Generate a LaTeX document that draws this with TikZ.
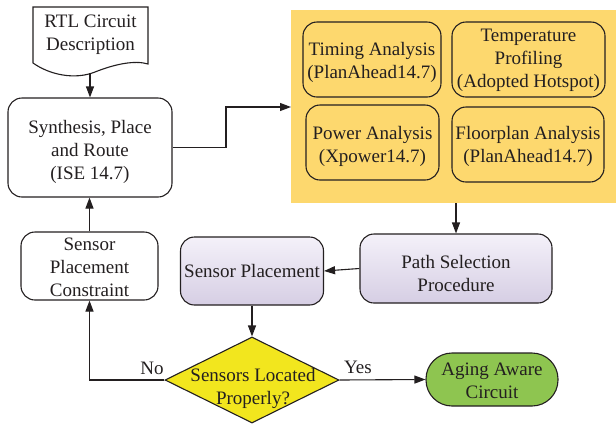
\documentclass[tikz,border=0pt]{standalone}
\usepackage{fontspec}
\setmainfont{Liberation Serif}
\usetikzlibrary{arrows.meta,shapes.geometric}
\definecolor{panelorange}{RGB}{253,216,110}
\definecolor{lavtop}{RGB}{244,241,249}
\definecolor{lavbot}{RGB}{214,206,228}
\definecolor{decyellow}{RGB}{242,230,30}
\definecolor{okgreen}{RGB}{142,197,80}
\definecolor{ink}{RGB}{35,31,32}
\tikzset{
  txt/.style={align=center, text=ink, font=\fontsize{19}{23}\selectfont},
  box/.style={draw=ink, line width=1.1pt, rounded corners=14pt, inner sep=0pt},
  lav/.style={box, top color=lavtop, bottom color=lavbot},
  arr/.style={draw=ink, line width=1.1pt, -{Triangle[length=11pt,width=8pt]}},
}
\begin{document}
\begin{tikzpicture}[x=1pt,y=-1pt]
\useasboundingbox (0,0) rectangle (616,424);

% input document with a wavy lower edge
\draw[draw=ink, line width=1.1pt, fill=white]
  (33,7) -- (148,7) -- (148,64)
  .. controls (135,60) and (115,64) .. (95,72)
  .. controls (75,80) and (50,75) .. (33,63) -- cycle;
\node[txt] (doc) at (90.5,35) {RTL Circuit\\Description};
\coordinate (docend) at (90,73);

% synthesis and sensor constraint
\node[box, minimum width=164pt, minimum height=99pt] (synth) at (90,147.5) {};
\node[txt] (synthtxt) at (90,152) {Synthesis, Place\\and Route\\(ISE 14.7)};
\node[box, minimum width=137pt, minimum height=68pt] (cons) at (89.5,266) {};
\node[txt] (constxt) at (89.5,267.5) {Sensor\\Placement\\Constraint};

% analysis panel
\node[fill=panelorange, draw=none, minimum width=325pt, minimum height=193pt, inner sep=0pt] (panel) at (453.5,106.5) {};
\node[box, minimum width=138pt, minimum height=75pt] (timing) at (372,59.5) {};
\node[txt] (timingtxt) at (372,62.5) {Timing Analysis\\(PlanAhead14.7)};
\node[box, minimum width=153pt, minimum height=75pt] (temp) at (528.5,59.5) {};
\node[txt] (temptxt) at (528.5,60) {Temperature\\Profiling\\(Adopted Hotspot)};
\node[box, minimum width=133pt, minimum height=75pt] (power) at (372.5,142.5) {};
\node[txt] (powertxt) at (372.5,146.5) {Power Analysis\\(Xpower14.7)};
\node[box, minimum width=152pt, minimum height=75pt] (floor) at (528,144.5) {};
\node[txt] (floortxt) at (528,146) {Floorplan Analysis\\(PlanAhead14.7)};

% selection and placement
\node[lav, minimum width=192pt, minimum height=69pt] (path) at (456,268.5) {};
\node[txt] (pathtxt) at (456,273.5) {Path Selection\\Procedure};
\node[lav, minimum width=143pt, minimum height=68pt] (sp) at (252,271) {};
\node[txt] (sptxt) at (252,271) {Sensor Placement};

% decision and result
\node[diamond, draw=ink, line width=1.1pt, fill=decyellow, minimum width=174pt, minimum height=86pt, inner sep=0pt] (dia) at (252,380) {};
\node[txt] (diatext) at (253,388) {Sensors Located\\Properly?};
\node[box, fill=okgreen, rounded corners=26pt, minimum width=132pt, minimum height=53pt] (aging) at (492,379.5) {};
\node[txt] (agingtxt) at (492,381) {Aging Aware\\Circuit};

% connectors
\coordinate (bend) at (226,147.5);
\coordinate (panelin) at (291,107);
\draw[arr] (docend) -- (synth.north);
\draw[arr] (synth.east) -- (bend) |- (panelin);
\draw[arr] (path.north |- panel.south) -- (path.north);
\draw[arr] (path.west) -- (sp.east);
\draw[arr] (sp.south) -- (dia.north);
\draw[arr] (dia.west) -| (cons.south);
\draw[arr] (cons.north) -- (cons.north |- synth.south);
\draw[arr] (dia.east) -- (aging.west);

\node[txt] (no) at (152,368) {No};
\node[txt] (yes) at (358,367) {Yes};
\end{tikzpicture}
\end{document}
